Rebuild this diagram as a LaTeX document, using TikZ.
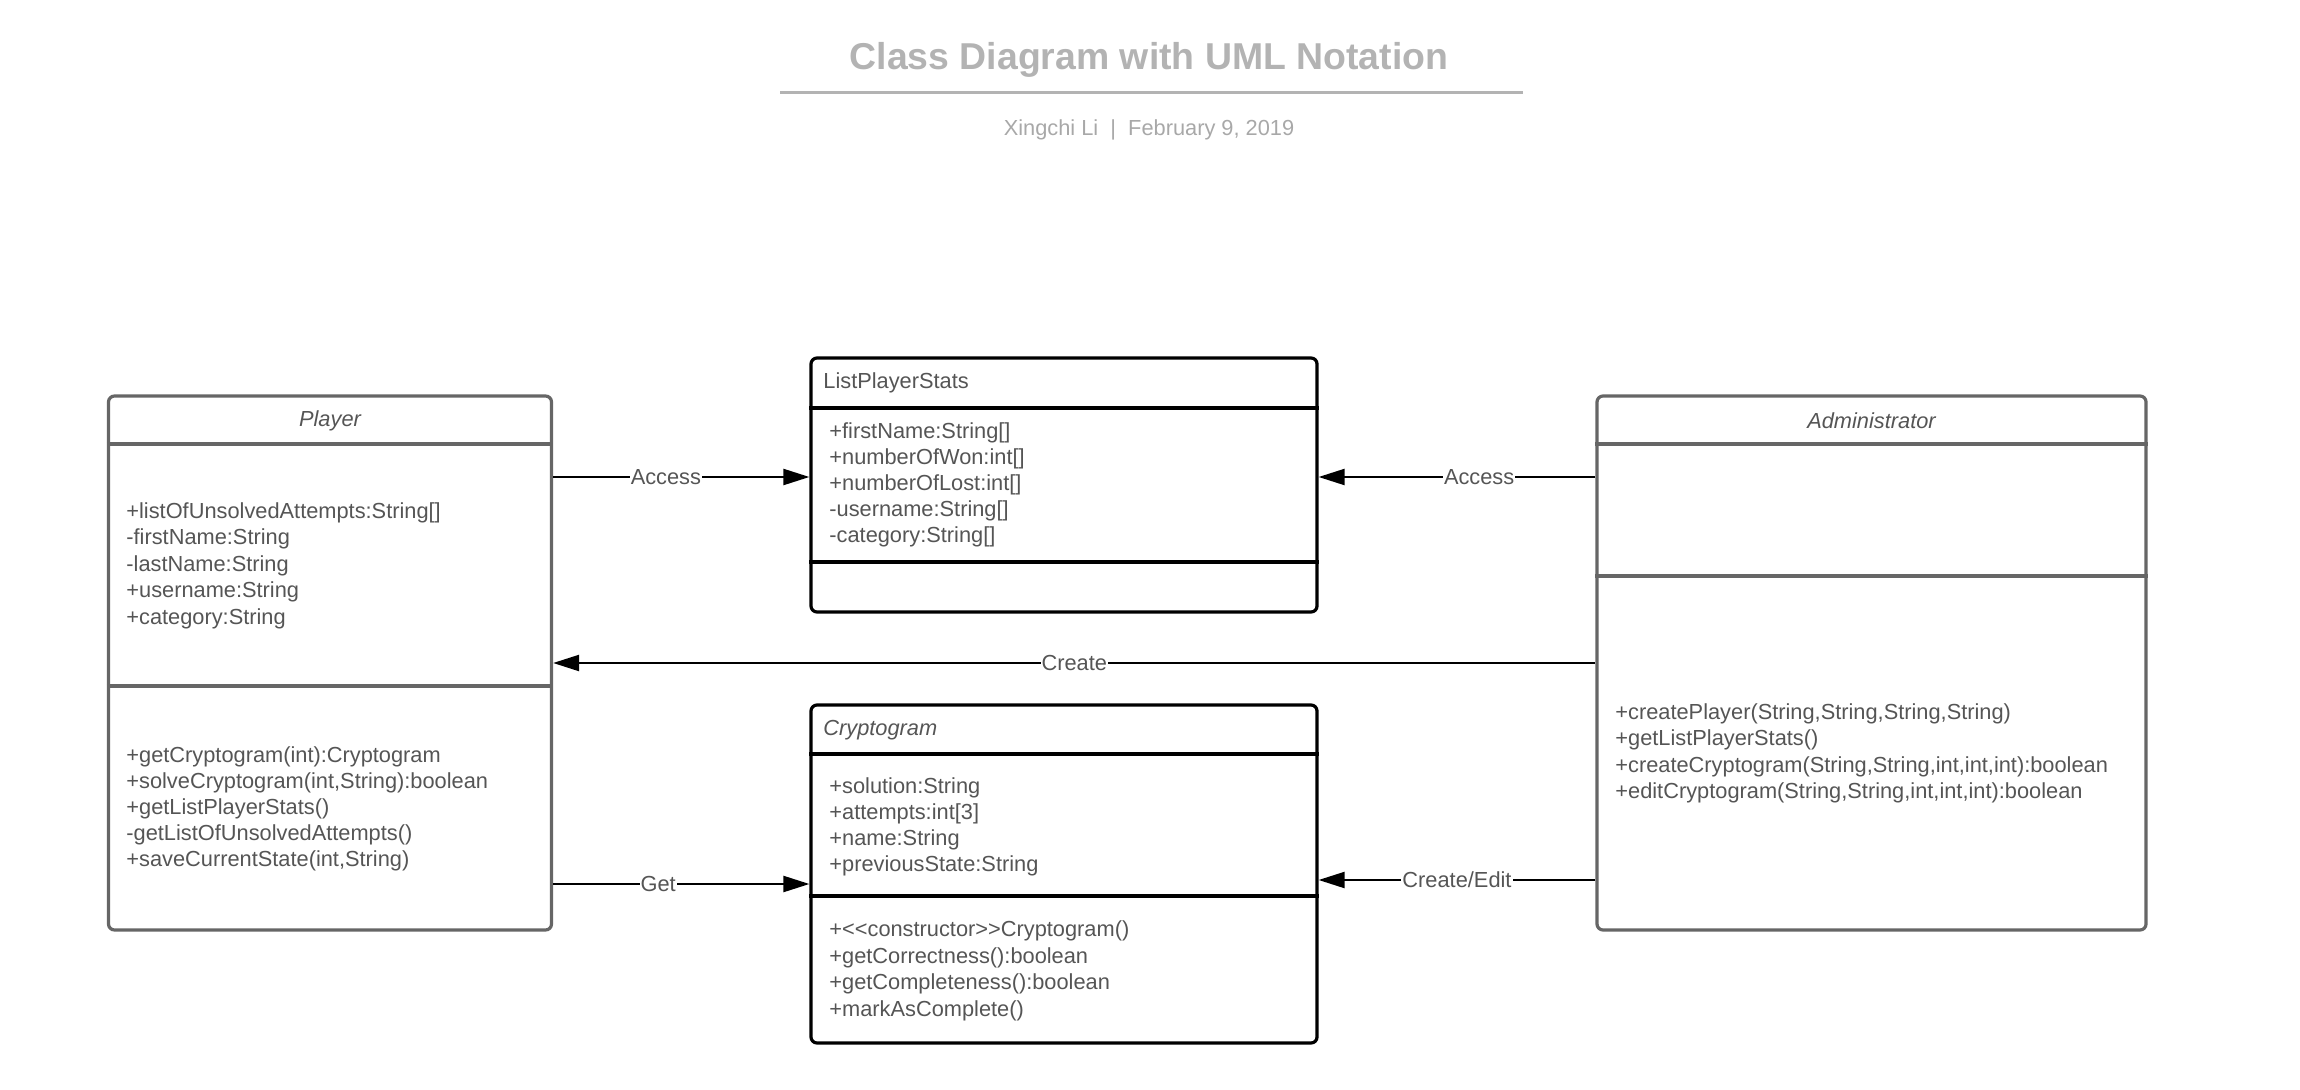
\documentclass[tikz,border=0pt]{standalone}
\usepackage{fontspec}
\setmainfont{Liberation Sans}
\usetikzlibrary{arrows.meta,positioning}

\definecolor{titlegray}{HTML}{B3B3B3}
\definecolor{subgray}{HTML}{A8A8A8}
\definecolor{txtgray}{HTML}{555555}
\definecolor{framegray}{HTML}{666666}

\tikzset{
  classbox/.style={draw=framegray, line width=1.6pt, rounded corners=3pt, inner sep=0pt},
  entitybox/.style={classbox, draw=black},
  member/.style={anchor=mid west, inner sep=0pt, yshift=-1.5pt, text=txtgray, font=\fontsize{10.9}{13}\selectfont},
  relation/.style={line width=1.1pt, -{Triangle[length=13pt,width=8pt]}},
  rellabel/.style={fill=white, inner sep=0.5pt, text=txtgray, font=\fontsize{10.9}{13}\selectfont},
}

\begin{document}
\begin{tikzpicture}[x=0.5pt,y=-0.5pt]
\useasboundingbox (0,0) rectangle (2300,1090);
% heading
\node[font=\fontsize{18.7}{22}\selectfont\bfseries, text=titlegray] (title) at (1149,60) {Class Diagram with UML Notation};
\draw[titlegray, line width=1.5pt] (780,93) -- (1523,93);
\node[font=\fontsize{10.9}{13}\selectfont, text=subgray] (byline) at (1149,130) {Xingchi Li~~|~~February 9, 2019};

% class frames
\node[classbox, minimum width=221.5pt, minimum height=267pt] (player) at (330,663) {};
\node[entitybox, minimum width=253pt, minimum height=127pt] (lps) at (1064,485) {};
\node[entitybox, minimum width=253pt, minimum height=169pt] (crypto) at (1064,874) {};
\node[classbox, minimum width=274.5pt, minimum height=267pt] (admin) at (1871.5,663) {};

% compartments
\foreach \y in {444,686} \draw[framegray, line width=1.6pt] (player.west |- 0,\y) -- (player.east |- 0,\y);
\foreach \y in {444,576} \draw[framegray, line width=1.6pt] (admin.west |- 0,\y) -- (admin.east |- 0,\y);
\foreach \y in {408,562} \draw[line width=1.6pt] (lps.west |- 0,\y) -- (lps.east |- 0,\y);
\foreach \y in {754,896} \draw[line width=1.6pt] (crypto.west |- 0,\y) -- (crypto.east |- 0,\y);

% class names
\node[member, anchor=center, font=\fontsize{10.9}{13}\selectfont\itshape] (playername) at (330,418) {Player};
\node[member, anchor=center, font=\fontsize{10.9}{13}\selectfont\itshape] (adminname) at (1871.5,418) {Administrator};
\node[member] (lpsname) at (823,380) {ListPlayerStats};
\node[member, font=\fontsize{10.9}{13}\selectfont\itshape] (cryptoname) at (823,727) {Cryptogram};

% members
\foreach \t [count=\i] in {{+listOfUnsolvedAttempts:String[]},-firstName:String,-lastName:String,+username:String,+category:String}
  \node[member] (pa\i) at (126,{483.5+26.5*\i}) {\t};
\foreach \t [count=\i] in {+getCryptogram(int):Cryptogram,{+solveCryptogram(int,String):boolean},+getListPlayerStats(),-getListOfUnsolvedAttempts(),{+saveCurrentState(int,String)}}
  \node[member] (pm\i) at (126,{728+26*\i}) {\t};
\foreach \t [count=\i] in {+firstName:String[],+numberOfWon:int[],+numberOfLost:int[],-username:String[],-category:String[]}
  \node[member] (la\i) at (829,{404+26*\i}) {\t};
\foreach \t [count=\i] in {+solution:String,+attempts:int[3],+name:String,+previousState:String}
  \node[member] (ca\i) at (829,{759+26*\i}) {\t};
\foreach \t [count=\i] in {+{<}{<}constructor{>}{>}Cryptogram(),+getCorrectness():boolean,+getCompleteness():boolean,+markAsComplete()}
  \node[member] (cm\i) at (829,{902+26.5*\i}) {\t};
\foreach \t [count=\i] in {{+createPlayer(String,String,String,String)},+getListPlayerStats(),{+createCryptogram(String,String,int,int,int):boolean},{+editCryptogram(String,String,int,int,int):boolean}}
  \node[member] (am\i) at (1615,{684.5+26.5*\i}) {\t};

% relations
\draw[relation] (player.east |- 0,477) -- node[rellabel, pos=0.44] {Access} (lps.west |- 0,477);
\draw[relation] (admin.west |- 0,477) -- node[rellabel, pos=0.42] {Access} (lps.east |- 0,477);
\draw[relation] (admin.west) -- node[rellabel, pos=0.5] {Create} (player.east |- admin.west);
\draw[relation] (player.east |- 0,884) -- node[rellabel, pos=0.41] {Get} (crypto.west |- 0,884);
\draw[relation] (admin.west |- 0,880) -- node[rellabel, pos=0.5] {Create/Edit} (crypto.east |- 0,880);
\end{tikzpicture}
\end{document}
